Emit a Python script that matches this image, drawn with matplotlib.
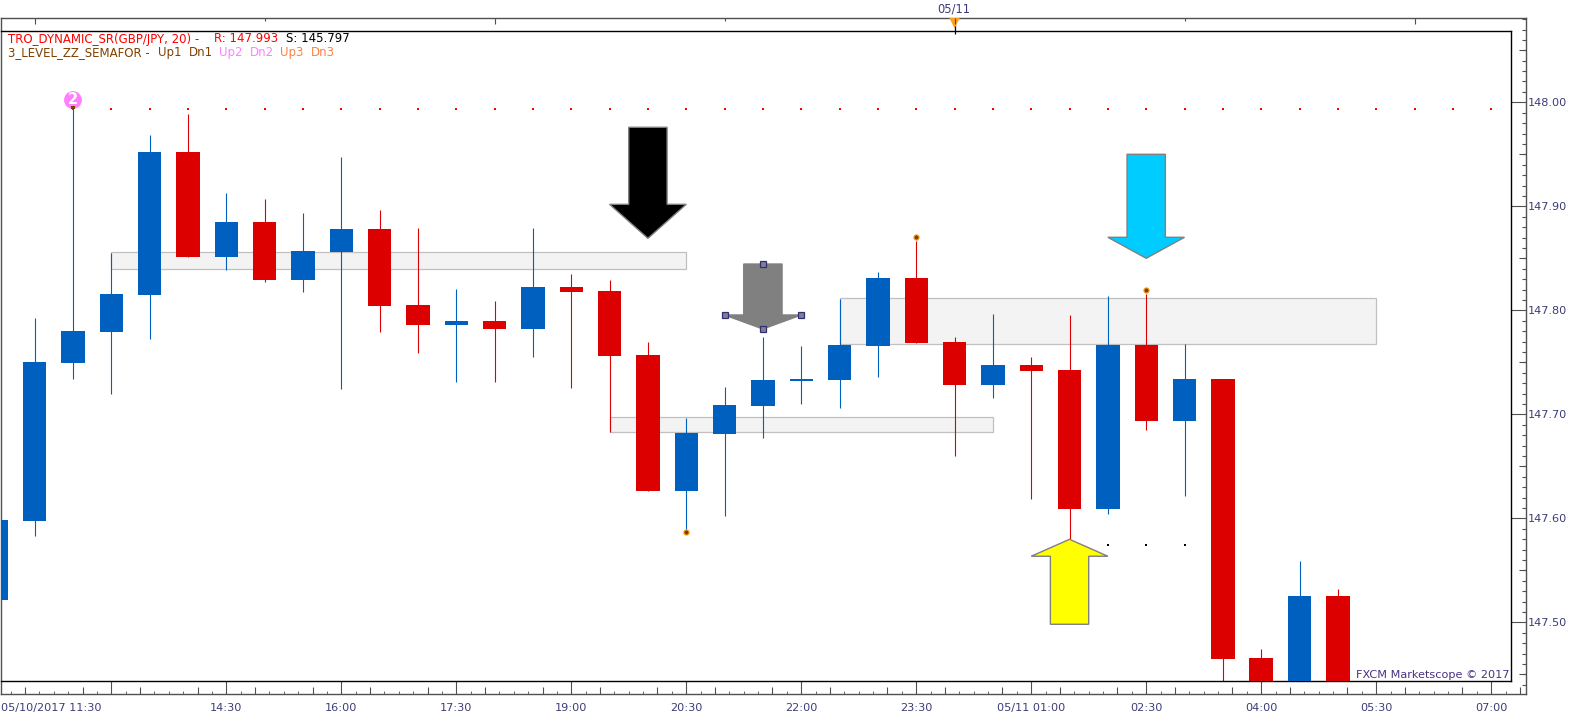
import numpy as np
import matplotlib
matplotlib.use("Agg")
import matplotlib.pyplot as plt
from matplotlib.patches import Polygon, Rectangle
from matplotlib.ticker import FixedLocator, NullFormatter

W, H = 1583, 720
BLUE = "#0060c0"
RED = "#dc0000"
LABEL = "#3c3c78"

# candle index 0 = 05/10 11:30, one candle per 30 minutes
opens_close_top = [147.5984, 147.7503, 147.7801, 147.8157, 147.9522, 147.9522, 147.8849, 147.8849, 147.8570,
                   147.8782, 147.8782, 147.8051, 147.7897, 147.7897, 147.8224, 147.8224, 147.8186, 147.7570,
                   147.6820, 147.7089, 147.7330, 147.7339, 147.7666, 147.8311, 147.8311, 147.7695, 147.7474,
                   147.7474, 147.7426, 147.7666, 147.7666, 147.7339, 147.7339, 147.4657, 147.5253, 147.5253]
body_bottom = [147.5214, 147.5974, 147.7493, 147.7791, 147.8147, 147.8512, 147.8512, 147.8291, 147.8291,
               147.8561, 147.8041, 147.7859, 147.7859, 147.7820, 147.7820, 147.8176, 147.7561, 147.6262,
               147.6262, 147.6811, 147.7080, 147.7320, 147.7330, 147.7657, 147.7686, 147.7282, 147.7282,
               147.7416, 147.6090, 147.6090, 147.6936, 147.6936, 147.4647, 147.4000, 147.4000, 147.4000]
highs = [147.5984, 147.7926, 147.9936, 147.8554, 147.9686, 147.9887, 147.9128, 147.9070, 147.8936,
         147.9474, 147.8964, 147.8791, 147.8205, 147.8089, 147.8791, 147.8349, 147.8291, 147.7695,
         147.6964, 147.7262, 147.7743, 147.7657, 147.8109, 147.8368, 147.8666, 147.7743, 147.7964,
         147.7551, 147.7955, 147.8137, 147.8157, 147.7676, 147.7339, 147.4743, 147.5589, 147.5320]
lows = [147.5214, 147.5833, 147.7342, 147.7195, 147.7727, 147.8512, 147.8387, 147.8272, 147.8176,
        147.7243, 147.7791, 147.7589, 147.7311, 147.7311, 147.7551, 147.7253, 147.6833, 147.6262,
        147.5900, 147.6022, 147.6772, 147.7099, 147.7061, 147.7359, 147.7686, 147.6599, 147.7157,
        147.6188, 147.5801, 147.6041, 147.6849, 147.6214, 147.4000, 147.4000, 147.4000, 147.4000]
colors = ["b", "b", "b", "b", "b", "r", "b", "r", "b", "b", "r", "r", "b", "r", "b", "r", "r", "r",
          "b", "b", "b", "b", "b", "b", "r", "r", "b", "r", "r", "b", "r", "b", "r", "r", "b", "r"]

# supply / demand zones: first index, last index, upper price, lower price
zone_start = [3, 16, 22]
zone_end = [18, 26, 36]
zone_top = [147.8558, 147.6971, 147.8115]
zone_bottom = [147.8394, 147.6833, 147.7673]

resistance_level = 147.9936
resistance_idx = list(range(2, 40))
support_level = 147.5743
support_idx = [29, 30, 31]
semafor_idx = [18, 24, 30]
semafor_val = [147.5868, 147.8705, 147.8195]
semafor2_idx = 2
semafor2_val = 148.0022
semafor2_dot = 147.9950

# arrows: centre index, tail price, shoulder price, tip price, fill
arrow_center = [17, 20, 30, 28]
arrow_tail = [147.9760, 147.8445, 147.9500, 147.4981]
arrow_shoulder = [147.9019, 147.7955, 147.8702, 147.5635]
arrow_tip = [147.8692, 147.7820, 147.8500, 147.5798]
arrow_fill = ["#000000", "#808080", "#00ccff", "#ffff00"]

price_ticks = [147.5, 147.6, 147.7, 147.8, 147.9, 148.0]
time_tick_idx = [6, 9, 12, 15, 18, 21, 24, 27, 30, 33, 36, 39]
time_tick_lbl = ["14:30", "16:00", "17:30", "19:00", "20:30", "22:00", "23:30", "05/11 01:00",
                 "02:30", "04:00", "05:30", "07:00"]
day_tick_idx = [1, 13, 25, 37]
halfday_tick_idx = [7, 19, 31]

# pixel <-> data calibration of the axes
PX_PER_IDX = 38.33
X0 = -3.7
PX_PER_PRICE = 1040.0
Y148 = 102.3


def idx_at(px):
    return (px - X0) / PX_PER_IDX


def price_at(py):
    return 148 - (py - Y148) / PX_PER_PRICE


def add_axes_px(fig, l, t, r, b, **kw):
    return fig.add_axes([l / W, 1 - b / H, (r - l) / W, (b - t) / H], **kw)


plt.rcParams["font.family"] = ["DejaVu Sans"]
fig = plt.figure(figsize=(W / 100, H / 100), dpi=100, facecolor="white")

OL, OT, OR, OB = 0.5, 18.3, 1525.6, 694.3
IR, IT, IB = 1510.7, 31.3, 681.3
AXFS = 8.1

# outer frame: tick scales and labels
frame = add_axes_px(fig, OL, OT, OR, OB)
frame.set_xlim(idx_at(OL), idx_at(OR))
frame.set_ylim(price_at(OB), price_at(OT))
for s in frame.spines.values():
    s.set_color("#505050")
    s.set_linewidth(1.0)

frame.yaxis.tick_right()
frame.yaxis.set_major_locator(FixedLocator(price_ticks))
frame.yaxis.set_minor_locator(FixedLocator(np.round(np.arange(147.43, 148.08, 0.01), 2)))
frame.set_yticklabels([f"{v:.2f}" for v in price_ticks])
frame.yaxis.set_minor_formatter(NullFormatter())
frame.tick_params(axis="y", which="major", direction="in", length=10.7, width=0.8, color="#505050",
                  labelsize=AXFS, labelcolor=LABEL, pad=1.5)
frame.tick_params(axis="y", which="minor", direction="in", length=2.6, width=0.8, color="#505050")

frame.xaxis.set_major_locator(FixedLocator(np.arange(3, 40, 3)))
frame.xaxis.set_minor_locator(FixedLocator(np.arange(0, 40, 0.375)))
frame.xaxis.set_major_formatter(NullFormatter())
frame.xaxis.set_minor_formatter(NullFormatter())
frame.tick_params(axis="x", which="major", direction="in", length=9.4, width=0.8, color="#505050")
frame.tick_params(axis="x", which="minor", direction="in", length=2.2, width=0.6, color="#505050")

# mid-length ticks on an overlay with the same scales
mid = add_axes_px(fig, OL, OT, OR, OB, frameon=False)
mid.set_xlim(frame.get_xlim())
mid.set_ylim(frame.get_ylim())
mid.patch.set_visible(False)
mid.yaxis.tick_right()
mid.yaxis.set_major_locator(FixedLocator([147.45, 147.55, 147.65, 147.75, 147.85, 147.95, 148.05]))
mid.xaxis.set_major_locator(FixedLocator(np.arange(0.75, 40, 1.5)))
mid.yaxis.set_major_formatter(NullFormatter())
mid.xaxis.set_major_formatter(NullFormatter())
mid.tick_params(axis="both", which="major", direction="in", length=4.8, width=0.8, color="#505050")

# top strip ticks
top = mid.secondary_xaxis("top")
top.set_xticks(day_tick_idx)
top.set_xticks(halfday_tick_idx, minor=True)
top.set_xticklabels([])
top.tick_params(axis="x", which="major", direction="in", length=4.3, width=0.8, color="#505050")
top.tick_params(axis="x", which="minor", direction="in", length=2.2, width=0.8, color="#505050")
top.spines["top"].set_visible(False)

# inner plot
ax = add_axes_px(fig, OL, IT, IR, IB)
ax.set_xlim(idx_at(OL), idx_at(IR))
ax.set_ylim(price_at(IB), price_at(IT))
ax.set_xticks([])
ax.set_yticks([])
ax.spines["left"].set_visible(False)
for k in ("top", "bottom", "right"):
    ax.spines[k].set_color("black")
    ax.spines[k].set_linewidth(1.0)

for s, e, t, b in zip(zone_start, zone_end, zone_top, zone_bottom):
    ax.add_patch(Rectangle((s, b), e - s, t - b, fc="#f3f3f3", ec="#c0c0c0", lw=0.9, zorder=1))

for i, (bt, bb, hi, lo, c) in enumerate(zip(opens_close_top, body_bottom, highs, lows, colors)):
    col = BLUE if c == "b" else RED
    ax.plot([i, i], [lo, hi], color=col, lw=0.8, solid_capstyle="butt", zorder=2)
    ax.add_patch(Rectangle((i - 0.305, bb), 0.61, bt - bb, fc=col, ec="none", zorder=3))

ax.plot(resistance_idx, [resistance_level] * len(resistance_idx), ls="none", marker="s", ms=1.7, mew=0,
        color="#ff0000", zorder=4)
ax.plot(support_idx, [support_level] * len(support_idx), ls="none", marker="s", ms=1.7, mew=0,
        color="black", zorder=4)
ax.scatter(semafor_idx, semafor_val, s=14, fc="#804000", ec="#ffa020", lw=0.8, zorder=6)
ax.scatter([semafor2_idx], [semafor2_val], s=165, fc="#ff80ff", ec="none", zorder=6)
ax.text(semafor2_idx, semafor2_val + 0.0008, "2", color="white", fontsize=10.5, fontweight="bold", ha="center",
        va="center", zorder=7)
ax.scatter([semafor2_idx], [semafor2_dot], s=5, marker="s", fc="#804000", ec="none", zorder=8)

for c, tail, sh, tip, fill in zip(arrow_center, arrow_tail, arrow_shoulder, arrow_tip, arrow_fill):
    pts = [(c - 0.5, tail), (c + 0.5, tail), (c + 0.5, sh), (c + 1, sh), (c, tip), (c - 1, sh), (c - 0.5, sh)]
    ax.add_patch(Polygon(pts, closed=True, fc=fill, ec="#808080", lw=1.0, zorder=5))

# selection handles on the grey arrow
hc, ht, hs, hp = arrow_center[1], arrow_tail[1], arrow_shoulder[1], arrow_tip[1]
ax.plot([hc, hc - 1, hc + 1, hc], [ht, hs, hs, hp], ls="none", marker="s", ms=5, mew=0.9, mfc="#808090",
        mec="#303070", zorder=8)

# 05/11 day marker
frame.set_zorder(0)
mid.set_zorder(1)
ax.set_zorder(2)
ax.patch.set_visible(False)
frame.vlines(25, price_at(19), price_at(34), color="black", lw=0.9, zorder=5, clip_on=False)
frame.scatter([25], [price_at(23)], marker="v", s=60, color="#ffa020", ec="none", zorder=6)
fig.text(954 / W, 1 - 9 / H, "05/11", fontsize=8.3, color=LABEL, ha="center", va="center")

# time labels
for i, lbl in zip(time_tick_idx, time_tick_lbl):
    fig.text((X0 + i * PX_PER_IDX) / W, 1 - 708 / H, lbl, fontsize=AXFS, color=LABEL, ha="center", va="center")
fig.text(1 / W, 1 - 708 / H, "05/10/2017 11:30", fontsize=AXFS, color=LABEL, ha="left", va="center")

# indicator legend
FS = 8.45


def legend(x, y, s, c):
    fig.text(x / W, 1 - y / H, s, fontsize=FS, color=c, ha="left", va="center")


legend(8, 39, "TRO_DYNAMIC_SR(GBP/JPY, 20) -", "#ff0000")
legend(214.3, 39, "R: 147.993", "#ff0000")
legend(285.7, 39, "S: 145.797", "black")
legend(8, 52.5, "3_LEVEL_ZZ_SEMAFOR -", "#804000")
legend(158.3, 52.5, "Up1", "#804000")
legend(188.7, 52.5, "Dn1", "#804000")
legend(219.3, 52.5, "Up2", "#ff80ff")
legend(249.7, 52.5, "Dn2", "#ff80ff")
legend(280.3, 52.5, "Up3", "#ff8040")
legend(310.7, 52.5, "Dn3", "#ff8040")

fig.text(1509 / W, 1 - 675 / H, "FXCM Marketscope © 2017", fontsize=8.15, color="#4a3080", ha="right", va="center",
         zorder=10)

fig.savefig("out.png", dpi=100, facecolor="white")
